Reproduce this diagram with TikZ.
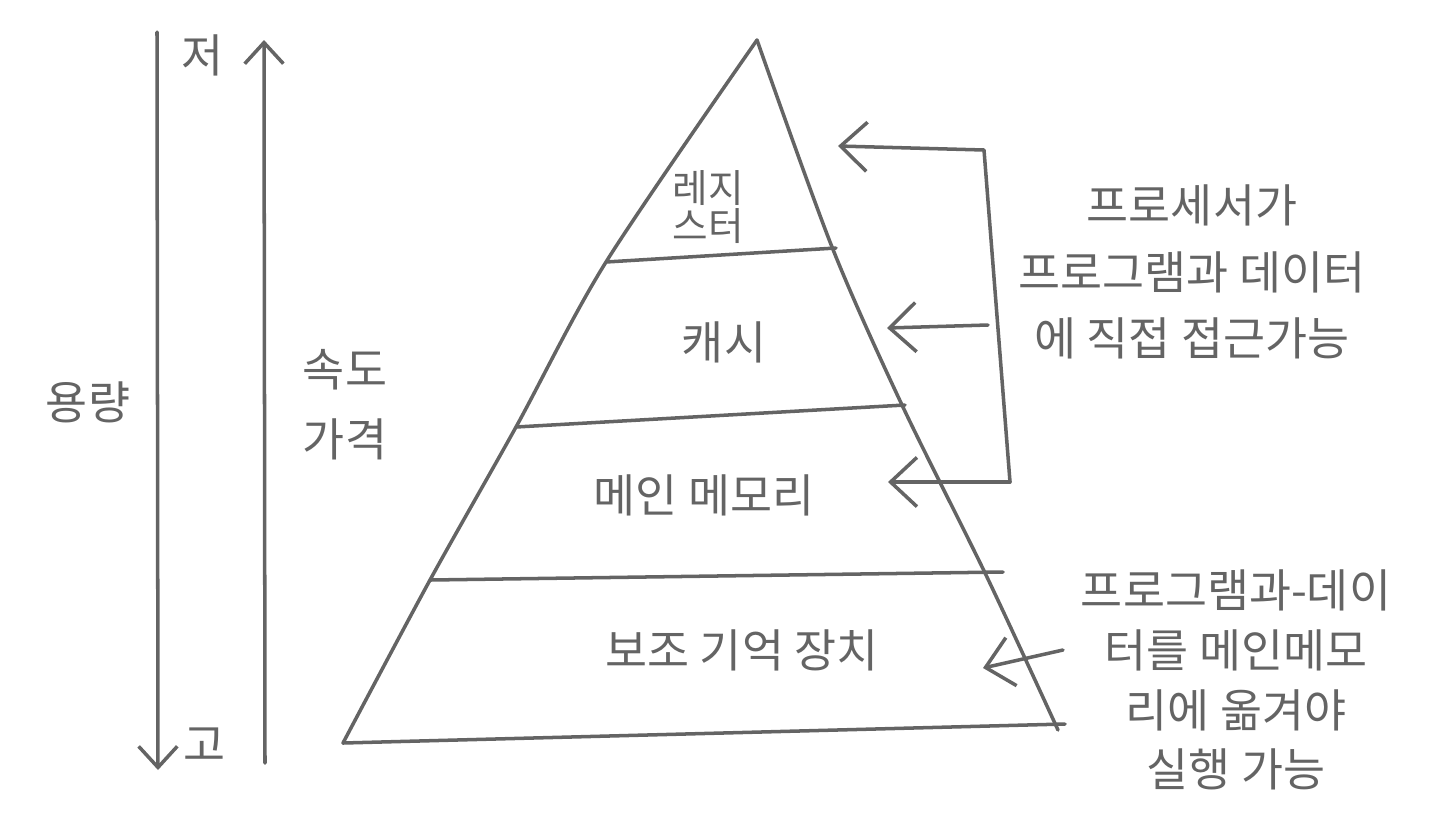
\documentclass[tikz,border=0pt]{standalone}
\usepackage{fontspec}
\newfontfamily\hangul{Noto Sans CJK KR}
\usepackage{tikz}
\usetikzlibrary{arrows.meta}
\usetikzlibrary{positioning}
\definecolor{pencil}{RGB}{100,100,100}
\tikzset{
	pen/.style={draw=pencil,line width=2pt,line cap=round,line join=round},
	barb/.style={pen,-{Straight Barb[length=15pt,width=28pt]}},
	axisbarb/.style={pen,-{Straight Barb[length=12pt,width=22pt]}},
	hand/.style={font=\hangul\fontsize{26}{38}\selectfont,text=pencil,inner sep=0pt,align=center},
}

\begin{document}
\begin{tikzpicture}[x=0.02cm,y=-0.02cm]
			\useasboundingbox (0,0) rectangle (1440,833);
			%capacity axis
			\coordinate (cap_top) at (157,32);
			\coordinate (cap_bot) at (158,770);
			\draw[axisbarb] (cap_top)--(cap_bot);
			\node[hand] (low) at (203,55) {저};
			\node[hand] (high) at (205,745) {고};
			\node[hand] (capacity) at (88,402) {용량};
			%speed and price axis
			\coordinate (speed_bot) at (265,763);
			\coordinate (speed_top) at (264,40);
			\draw[axisbarb] (speed_bot)--(speed_top);
			\node[hand,font=\hangul\fontsize{26}{40}\selectfont] (speed) at (345,405) {속도\\가격};
			%pyramid
			\coordinate (apex) at (757,40);
			\coordinate (reg_l) at (606,262);
			\coordinate (reg_r) at (836,248);
			\coordinate (cache_l) at (516,427);
			\coordinate (cache_r) at (905,405);
			\coordinate (mem_l) at (430,580);
			\coordinate (mem_r) at (1003,572);
			\coordinate (base_l) at (343,743);
			\coordinate (base_r) at (1065,724);
			\draw[pen] plot[smooth,tension=0.5] coordinates {(apex) (reg_l) (cache_l) (mem_l) (base_l)};
			\draw[pen] plot[smooth,tension=0.5] coordinates {(apex) (832,247) (902,405) (986,575) (1058,730)};
			\draw[pen] (reg_l)--(reg_r);
			\draw[pen] (cache_l)--(cache_r);
			\draw[pen] (mem_l)--(mem_r);
			\draw[pen] (base_l)--(base_r);
			%layer names
			\node[hand,font=\hangul\fontsize{22}{22}\selectfont] (register) at (708,207) {레지\\스터};
			\node[hand] (cache) at (724,342) {캐시};
			\node[hand] (main) at (704,495) {메인 메모리};
			\node[hand] (aux) at (742,650) {보조 기억 장치};
			%direct access arrows
			\coordinate (reg_tip) at (838,146);
			\coordinate (cache_tip) at (887,328);
			\coordinate (mem_tip) at (888,482);
			\coordinate (br_top) at (984,150);
			\coordinate (br_bot) at (1010,482);
			\coordinate (cache_tail) at (988,325);
			\draw[barb] (br_bot)--(br_top)--(reg_tip);
			\draw[barb] (cache_tail)--(cache_tip);
			\draw[barb] (br_bot)--(mem_tip);
			\node[hand] (direct) at (1192,272) {프로세서가\\프로그램과 데이터\\에 직접 접근가능};
			%load arrow
			\coordinate (aux_tail) at (1063,650);
			\coordinate (aux_tip) at (983,668);
			\draw[barb] (aux_tail)--(aux_tip);
			\node[hand,font=\hangul\fontsize{26}{34}\selectfont] (load) at (1236,680) {프로그램과-데이\\터를 메인메모\\리에 옮겨야\\실행 가능};
		\end{tikzpicture}
\end{document}
